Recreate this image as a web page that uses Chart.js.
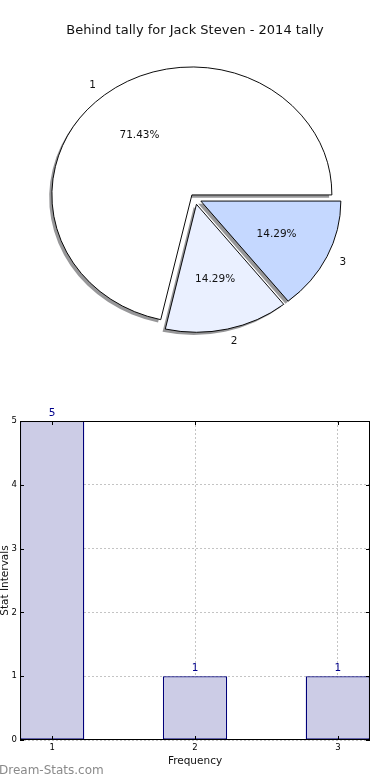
<!DOCTYPE html>
<html><head><meta charset="utf-8">
<script src="https://cdn.jsdelivr.net/npm/chart.js@4.4.1/dist/chart.umd.min.js"></script>
<style>
html,body{margin:0;padding:0;background:#fff;}
body{width:390px;height:780px;position:relative;overflow:hidden;font-family:"DejaVu Sans";}
#title{position:absolute;left:0;top:20px;width:390px;text-align:center;font-size:13px;line-height:20px;color:#111;font-family:"DejaVu Sans";}
#pieWrap{position:absolute;left:0;top:0;width:390px;height:397px;}
#barWrap{position:absolute;left:0;top:398px;width:390px;height:382px;}
canvas{display:block;}
</style></head><body>
<div id="pieWrap"><canvas id="pie" width="390" height="397"></canvas></div>
<div id="title">Behind tally for Jack Steven - 2014 tally</div>
<div id="barWrap"><canvas id="bar" width="390" height="382"></canvas></div>
<script>
// ---- data ----
const pieLabels = ['1', '2', '3'];
const pieValues = [5, 1, 1];
const barCategories = [1, 2, 3];
const barValues = [5, 1, 1];
const yTickValues = [0, 1, 2, 3, 4, 5];

// ---- style ----
const pieColors = {'1': '#ffffff', '2': '#eaf0ff', '3': '#c5d8ff'};
const explodePx = {'1': 5, '2': 6.5, '3': 6.5};
const SY = 0.914;           // vertical squash of the pie (ellipse)
const FONT = '"DejaVu Sans"';

// matplotlib goes counter-clockwise from east; Chart.js clockwise, so reverse
const pLabels = pieLabels.slice().reverse();
const pValues = pieValues.slice().reverse();
const total = pieValues.reduce((a, b) => a + b, 0);

const piePlugin = {
  id: 'piePlugin',
  beforeDatasetDraw(chart, args) {
    const ctx = chart.ctx;
    const arcs = args.meta.data;
    if (!arcs.length) return false;
    const cx = arcs[0].x, cy = arcs[0].y;
    ctx.save();
    ctx.translate(cx, cy); ctx.scale(1, SY); ctx.translate(-cx, -cy);
    // shadows
    arcs.forEach((arc, i) => {
      const lab = chart.data.labels[i];
      const h = (arc.startAngle + arc.endAngle) / 2;
      const d = explodePx[lab];
      ctx.save();
      ctx.translate(Math.cos(h) * d - 2.7, Math.sin(h) * d + 2.7 / SY);
      ctx.beginPath();
      ctx.moveTo(arc.x, arc.y);
      ctx.arc(arc.x, arc.y, arc.outerRadius, arc.startAngle, arc.endAngle);
      ctx.closePath();
      ctx.fillStyle = 'rgba(65,65,70,0.55)';
      ctx.fill();
      ctx.restore();
    });
    // wedges
    arcs.forEach((arc, i) => {
      const lab = chart.data.labels[i];
      const h = (arc.startAngle + arc.endAngle) / 2;
      const d = explodePx[lab];
      ctx.save();
      ctx.translate(Math.cos(h) * d, Math.sin(h) * d);
      arc.draw(ctx, chart.chartArea);
      ctx.restore();
    });
    ctx.restore();
    return false;
  },
  afterDraw(chart) {
    const ctx = chart.ctx;
    const arcs = chart.getDatasetMeta(0).data;
    ctx.save();
    ctx.font = '10.5px ' + FONT;
    ctx.fillStyle = '#111';
    ctx.textBaseline = 'middle';
    arcs.forEach((arc, i) => {
      const lab = chart.data.labels[i];
      const val = chart.data.datasets[0].data[i];
      const h = (arc.startAngle + arc.endAngle) / 2;
      const d = explodePx[lab];
      const r = arc.outerRadius;
      const c = Math.cos(h), s = Math.sin(h);
      const lx = arc.x + (d + 1.1 * r) * c;
      const ly = arc.y + (d + 1.1 * r) * s * SY;
      ctx.textAlign = lx > arc.x ? 'left' : 'right';
      ctx.fillText(lab, lx, ly);
      const px = arc.x + (d + 0.6 * r) * c;
      const py = arc.y + (d + 0.6 * r) * s * SY;
      ctx.textAlign = 'center';
      ctx.fillText((val / total * 100).toFixed(2) + '%', px, py);
    });
    ctx.restore();
  }
};

new Chart(document.getElementById('pie'), {
  type: 'pie',
  data: {
    labels: pLabels,
    datasets: [{
      data: pValues,
      backgroundColor: pLabels.map(l => pieColors[l]),
      borderColor: '#000',
      borderWidth: 1
    }]
  },
  options: {
    responsive: false,
    animation: false,
    rotation: 90,
    radius: 140,
    layout: {padding: 0},
    plugins: {legend: {display: false}, tooltip: {enabled: false}, title: {display: false}}
  },
  plugins: [piePlugin]
});

// ---- bar chart ----
const barPlugin = {
  id: 'barPlugin',
  afterDraw(chart) {
    const ctx = chart.ctx;
    const a = chart.chartArea;
    const xs = chart.scales.x, ys = chart.scales.y;
    ctx.save();
    // inner tick marks
    ctx.strokeStyle = '#000';
    ctx.lineWidth = 1;
    ctx.beginPath();
    yTickValues.forEach(v => {
      const y = Math.round(ys.getPixelForValue(v)) + 0.5;
      ctx.moveTo(a.left, y); ctx.lineTo(a.left + 4, y);
      ctx.moveTo(a.right, y); ctx.lineTo(a.right - 4, y);
    });
    barCategories.forEach(v => {
      const x = Math.round(xs.getPixelForValue(v)) + 0.5;
      ctx.moveTo(x, a.bottom); ctx.lineTo(x, a.bottom - 4);
      ctx.moveTo(x, a.top); ctx.lineTo(x, a.top + 4);
    });
    ctx.stroke();
    // frame
    ctx.strokeRect(Math.round(a.left) + 0.5, Math.round(a.top) + 0.5,
                   Math.round(a.right - a.left) - 1, Math.round(a.bottom - a.top) - 1);
    // value labels
    const meta = chart.getDatasetMeta(0);
    ctx.fillStyle = '#00008b';
    ctx.font = '10.5px ' + FONT;
    ctx.textAlign = 'center';
    ctx.textBaseline = 'alphabetic';
    meta.data.forEach((bar, i) => {
      ctx.fillText(String(barValues[i]), bar.x, bar.y - 5);
    });
    // axis titles
    ctx.fillStyle = '#111';
    ctx.fillText('Frequency', (a.left + a.right) / 2, 366);
    ctx.save();
    ctx.translate(7.5, (a.top + a.bottom) / 2);
    ctx.rotate(-Math.PI / 2);
    ctx.fillText('Stat Intervals', 0, 0);
    ctx.restore();
    // watermark
    ctx.fillStyle = '#8a8a8a';
    ctx.font = '12px ' + FONT;
    ctx.textAlign = 'left';
    ctx.fillText('Dream-Stats.com', -1, 376);
    ctx.restore();
  }
};

new Chart(document.getElementById('bar'), {
  type: 'bar',
  data: {
    datasets: [{
      data: barCategories.map((c, i) => ({x: c, y: barValues[i]})),
      backgroundColor: 'rgb(204,204,230)',
      borderColor: '#00007a',
      borderWidth: 1.3,
      borderSkipped: false,
      barPercentage: 0.45,
      categoryPercentage: 1
    }]
  },
  options: {
    responsive: false,
    animation: false,
    layout: {padding: {top: 23, right: 20, left: 0, bottom: 0}},
    plugins: {legend: {display: false}, tooltip: {enabled: false}},
    scales: {
      x: {
        type: 'linear',
        min: 0.775, max: 3.225,
        offset: false,
        z: 1,
        afterBuildTicks(s) { s.ticks = barCategories.map(v => ({value: v})); },
        afterFit(s) { s.height = 40; },
        grid: {color: '#c4c4c4', lineWidth: 1, drawTicks: false, offset: false},
        border: {display: false, dash: [2, 2]},
        ticks: {font: {family: 'DejaVu Sans', size: 8.5}, color: '#000', padding: 3,
                callback: v => String(v)}
      },
      y: {
        min: 0, max: 5,
        z: 1,
        afterBuildTicks(s) { s.ticks = yTickValues.map(v => ({value: v})); },
        afterFit(s) { s.width = 20; },
        grid: {color: '#c4c4c4', lineWidth: 1, drawTicks: false},
        border: {display: false, dash: [2, 2]},
        ticks: {font: {family: 'DejaVu Sans', size: 8.5}, color: '#000', padding: 3,
                callback: v => String(v)}
      }
    }
  },
  plugins: [barPlugin]
});
</script>
</body></html>
